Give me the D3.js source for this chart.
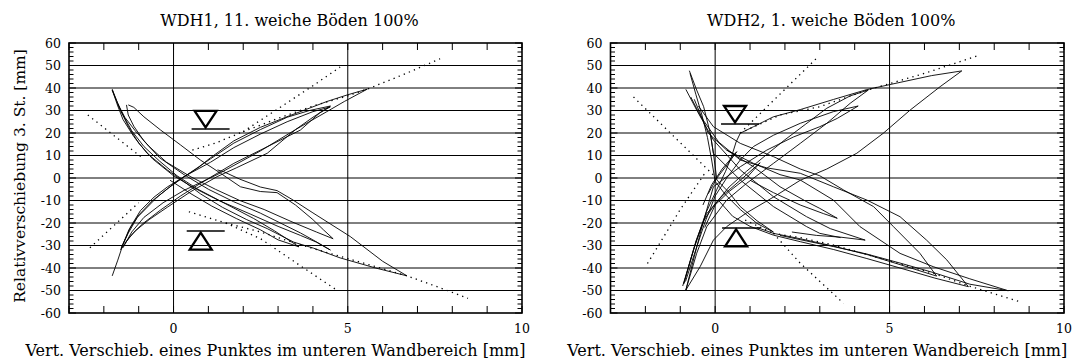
<!DOCTYPE html>
<html>
<head>
<meta charset="utf-8">
<script src="https://cdn.jsdelivr.net/npm/d3@7"></script>
<style>
  html, body { margin: 0; padding: 0; background: #fff; }
  svg { display: block; }
  text { font-family: "DejaVu Serif", serif; fill: #000; }
</style>
</head>
<body>
<svg id="chart" width="1082" height="361"></svg>
<script>
// ---- axes ----
const xDomain = [-3, 10];
const yDomain = [-60, 60];
const xTickValues = d3.range(-3, 11);
const xTickLabels = [0, 5, 10];
const yTickLabels = d3.range(-60, 61, 10);
const yMinorTicks = d3.range(-60, 61, 2);
const xGridValues = [0, 5];

// ---- texts ----
const panelTitles = ["WDH1, 11. weiche Böden 100%", "WDH2, 1. weiche Böden 100%"];
const xAxisTitle = "Vert. Verschieb. eines Punktes im unteren Wandbereich [mm]";
const yAxisTitle = "Relativverschiebung 3. St. [mm]";

// ---- WDH1: measured hysteresis paths [x mm, drift mm] ----
const wdh1Loops = [
  [[-1.52,-32],[-1.28,-23],[-1.0,-16.5],[-0.6,-10],[-0.15,-4.5],[0.3,0.5],[0.7,4.5],[1.06,9],[1.73,16.5],[2.49,22.5],[3.3,27.5],[4.4,34],[5.0,37],[5.56,39.5],[4.9,34],[4.4,29.5],[3.5,21.5],[2.49,12],[1.25,1.5],[0.3,-5.5],[-0.3,-11],[-0.85,-17.5],[-1.2,-24],[-1.45,-31]],
  [[-1.76,-43.5],[-1.6,-36.5],[-1.45,-29.5],[-1.23,-21.6],[-0.95,-14.5],[-0.56,-8.5],[-0.18,-4],[0.3,0.6],[1.06,7],[1.73,13.5],[2.49,19.5],[3.26,25],[4.0,29.5],[4.5,31.6],[4.2,29],[3.64,21.3],[2.69,13.9],[1.73,6.5],[0.77,-2.4],[0.2,-8],[-0.37,-14.2],[-0.9,-20.5],[-1.25,-26],[-1.5,-31.5]],
  [[-1.5,-31],[-1.3,-24.5],[-1.04,-17.5],[-0.47,-8.5],[0.01,-2.5],[0.49,2.5],[1.06,8.5],[1.73,15.5],[2.49,21.5],[3.26,27],[3.9,30],[4.5,32],[4.3,30],[4.0,27],[3.5,21.5],[2.69,11],[1.8,4.5],[1.25,0.6],[0.5,-6],[-0.18,-13],[-0.7,-18.5],[-1.1,-23.5],[-1.4,-29]],
  [[-1.76,39.1],[-1.6,32],[-1.45,26],[-1.14,18.4],[-0.76,11],[-0.18,3.6],[0.3,-1.6],[0.77,-7],[1.4,-13],[2.1,-18.5],[2.69,-22.5],[3.45,-28.5],[4.02,-31.2],[4.78,-35.5],[5.8,-40],[6.7,-43.5],[6.0,-37],[5.07,-26],[4.0,-15.5],[3.4,-9.5],[2.97,-5.6],[2.49,-4],[1.9,-0.5],[1.44,2.8],[1.26,3.6]],
  [[-1.76,39.5],[-1.55,31],[-1.3,23],[-1.0,15.5],[-0.6,8.5],[0,1],[0.6,-4.5],[1.3,-10],[2.2,-16],[3.0,-21.5],[3.64,-25.5],[4.1,-28.5],[4.5,-32],[4.0,-27.5],[3.64,-24.4],[3.0,-19.5],[2.49,-15.6],[1.72,-10.5],[1.0,-5],[0.3,1.5],[-0.4,9],[-0.85,16.5],[-1.14,23],[-1.3,28],[-1.35,32.5]],
  [[-1.3,32.5],[-1.14,31.4],[-0.85,27.2],[-0.37,21.3],[0.2,14.7],[0.77,8],[1.35,2.1],[1.92,-3.9],[2.49,-6],[2.97,-6.5],[3.5,-12],[4.0,-18.5],[4.3,-23],[4.58,-27],[4.1,-24],[3.4,-19.5],[2.6,-14],[1.9,-10],[1.2,-5],[0.5,0.5],[-0.2,7],[-0.7,14],[-1.1,21],[-1.4,27],[-1.6,33]],
  [[-1.76,39],[-1.5,29.5],[-1.2,21],[-0.85,14],[-0.4,7.5],[0.1,1],[0.7,-5],[1.5,-11.5],[2.3,-18],[2.9,-23.5],[3.6,-30.6],[3.0,-27.5],[2.49,-23],[1.8,-18],[1.1,-12.5],[0.5,-7],[-0.1,-1]]
];
// dotted reference lines
const wdh1Guides = [
  [[-2.46,28],[-0.9,9]],
  [[-2.4,-31],[-1.0,-11]],
  [[0.54,12.4],[1.2,15.5],[2.0,20.6]],
  [[2.0,20.6],[3.0,30.8],[4.0,41],[4.78,49.3]],
  [[2.0,20.6],[3.0,26.5],[4.0,32],[5.0,36.5],[5.56,39.5],[6.6,46],[7.65,53]],
  [[0.44,-15],[1.5,-20]],
  [[1.5,-20],[2.5,-27],[3.64,-39],[4.7,-50]],
  [[1.5,-20],[2.5,-24],[3.6,-29.5],[4.6,-34],[5.6,-38.5],[6.7,-43.5],[7.6,-48.5],[8.45,-53.5]]
];
// level symbols [x, y, direction]
const wdh1Levels = [[0.92, 21.8, "down"], [0.78, -23.6, "up"]];

// ---- WDH2 ----
const wdh2Loops = [
  [[-0.93,-48],[-0.7,-36],[-0.5,-26],[-0.25,-15],[0.05,-5],[0.3,3],[0.48,10],[0.6,16],[0.72,19.9],[1.1,22.8],[1.67,27.2],[2.44,30.4],[3.39,34.9],[4.35,39.3],[5.3,42.5],[6.2,45.5],[7.07,47.6],[6.45,40.6],[5.59,30.2],[4.82,19.9],[4.06,11],[3.2,4],[2.44,-1],[1.67,-8.5],[0.9,-15.5],[0.33,-21.6],[-0.05,-27.6],[-0.43,-39.4],[-0.84,-49.8]],
  [[-0.9,-47],[-0.6,-31],[-0.33,-19],[0,-11.5],[0.4,-4],[0.9,3],[1.48,10.5],[2.0,17],[2.6,24],[3.2,31],[3.87,36.5],[4.39,39.1],[3.87,33.2],[3.2,24.3],[2.44,15.4],[1.67,6.5],[0.9,-2.4],[0.33,-9.8],[-0.24,-21.6],[-0.53,-33.5],[-0.84,-49.8]],
  [[-0.84,-49.8],[-0.6,-35],[-0.35,-20],[-0.05,-3.9],[0.72,5],[1.48,12.4],[2.24,18.2],[3.0,22.8],[3.5,26.5],[4.1,32],[3.39,29.5],[2.44,24.3],[1.67,19],[1.1,14],[0.72,8],[0.33,0],[0,-8],[-0.3,-20],[-0.6,-34],[-0.85,-46]],
  [[-0.9,-47],[-0.55,-28],[-0.25,-16],[0.2,-8],[0.72,-1],[1.29,6.8],[0.9,0],[0.4,-6],[0,-12],[-0.3,-22]],
  [[-0.35,-12],[-0.1,-3],[0.2,4],[0.62,11.7],[0.35,6],[0.05,0],[-0.2,-7]],
  [[-0.74,47.7],[-0.53,39.1],[-0.33,31.7],[-0.14,19.9],[-0.05,11],[0.05,-0.9],[0.4,-6.5],[0.72,-12.7],[1.2,-19],[1.67,-24],[1.2,-20.2],[0.72,-14],[0.3,-7.5],[0.0,-1.5],[-0.1,8],[-0.22,18],[-0.38,28],[-0.55,37],[-0.72,46.5]],
  [[-0.48,32],[-0.05,22.8],[0.72,15.4],[1.67,9.5],[2.44,4],[3.0,1],[3.68,-5.3],[4.54,-12.7],[5.11,-21.6],[5.87,-33.5],[6.35,-43.6],[5.3,-38.5],[4.35,-34],[3.4,-30.3],[2.44,-27],[1.67,-24.6],[1.2,-22]],
  [[-0.6,35],[-0.2,20],[0.33,12.4],[1.1,6.5],[1.86,1.5],[2.44,-0.9],[3.39,-9.8],[4.15,-21.6],[5.3,-33.5],[6.25,-39.4],[7.3,-44.8],[8.4,-50.1],[7.3,-47.2],[6.25,-42],[5.3,-37.8],[4.35,-33.8],[3.4,-30.5],[2.62,-28],[1.86,-25.5]],
  [[-0.7,36],[-0.4,27],[0.1,16],[0.72,8],[1.48,4.5],[2.44,2.1],[3.39,-3.9],[4.35,-9.8],[5.3,-17.2],[6.06,-27.6],[6.64,-36.4],[7.26,-48.3],[6.3,-44.5],[5.3,-40],[4.35,-35.8],[3.4,-31.8],[2.44,-28.3],[1.67,-25.4],[1.0,-21.5],[0.5,-17],[0.1,-10]],
  [[-0.84,39.4],[-0.53,30.2],[-0.05,16.9],[0.72,3.6],[1.67,-8.3],[2.62,-17.2],[3.3,-22.5],[4.3,-27.6],[3.6,-26.3],[2.9,-25.5],[2.2,-24]],
  [[0.33,12.4],[1.1,5],[1.86,-3.9],[2.62,-10.5],[3.0,-13.5],[3.5,-17.9],[3.1,-15.8],[2.44,-12],[1.67,-6.5],[1.0,-1]],
  [[-0.14,19.9],[-0.05,11],[0.72,-0.9],[1.67,-12.7],[2.62,-21.6],[3.0,-24.6],[3.6,-26.5]]
];
const wdh2Guides = [
  [[-2.34,36],[-0.05,1.3]],
  [[-1.94,-38],[-1.0,-14],[-0.3,2]],
  [[0.72,20],[2.96,54]],
  [[0.72,20],[1.86,28],[3.0,31.7],[4.35,39],[6.0,46.5],[7.6,54.7]],
  [[0.86,-18.7],[1.67,-24.6]],
  [[1.67,-24.6],[2.44,-37.9],[3.68,-55.7]],
  [[1.67,-24.6],[2.44,-26.5],[3.4,-29.8],[4.8,-36],[6.27,-42.4],[7.2,-47.6],[8.74,-55]]
];
const wdh2Levels = [[0.57, 24, "down"], [0.6, -22.2, "up"]];

// ---- layout ----
const frameTop = 43, frameBottom = 313;
const panels = [
  { left: 69,    right: 522,  title: panelTitles[0], loops: wdh1Loops, guides: wdh1Guides, levels: wdh1Levels, yTitle: true },
  { left: 610.5, right: 1064, title: panelTitles[1], loops: wdh2Loops, guides: wdh2Guides, levels: wdh2Levels, yTitle: false }
];

const svg = d3.select("#chart");

panels.forEach((p, i) => {
  const x = d3.scaleLinear().domain(xDomain).range([p.left, p.right]);
  const y = d3.scaleLinear().domain(yDomain).range([frameBottom, frameTop]);
  const g = svg.append("g");
  const clipId = "clip" + i;
  svg.append("clipPath").attr("id", clipId)
    .append("rect").attr("x", p.left).attr("y", frameTop)
    .attr("width", p.right - p.left).attr("height", frameBottom - frameTop);

  // grid
  g.append("g").selectAll("line").data(yTickLabels.slice(1, -1)).join("line")
    .attr("x1", p.left).attr("x2", p.right)
    .attr("y1", d => y(d)).attr("y2", d => y(d))
    .attr("stroke", "#000").attr("stroke-width", 1);
  g.append("g").selectAll("line").data(xGridValues).join("line")
    .attr("x1", d => x(d)).attr("x2", d => x(d))
    .attr("y1", frameTop).attr("y2", frameBottom)
    .attr("stroke", "#000").attr("stroke-width", 1);

  const line = d3.line().x(d => x(d[0])).y(d => y(d[1]));
  const plot = g.append("g").attr("clip-path", `url(#${clipId})`);

  plot.append("g").selectAll("path").data(p.guides).join("path")
    .attr("d", line).attr("fill", "none").attr("stroke", "#000")
    .attr("stroke-width", 1.3).attr("stroke-dasharray", "1.3,4.2");

  plot.append("g").selectAll("path").data(p.loops).join("path")
    .attr("d", line).attr("fill", "none").attr("stroke", "#000")
    .attr("stroke-width", 0.9).attr("stroke-linejoin", "round");

  // ticks
  const tk = g.append("g").attr("stroke", "#000").attr("stroke-width", 1);
  xTickValues.forEach(v => {
    tk.append("line").attr("x1", x(v)).attr("x2", x(v)).attr("y1", frameTop).attr("y2", frameTop + 7);
    tk.append("line").attr("x1", x(v)).attr("x2", x(v)).attr("y1", frameBottom).attr("y2", frameBottom - 7);
  });
  yMinorTicks.forEach(v => {
    const len = v % 10 === 0 ? 7 : 4.5;
    tk.append("line").attr("x1", p.left).attr("x2", p.left + len).attr("y1", y(v)).attr("y2", y(v));
    tk.append("line").attr("x1", p.right).attr("x2", p.right - len).attr("y1", y(v)).attr("y2", y(v));
  });

  // frame
  g.append("rect").attr("x", p.left).attr("y", frameTop)
    .attr("width", p.right - p.left).attr("height", frameBottom - frameTop)
    .attr("fill", "none").attr("stroke", "#000").attr("stroke-width", 1.6);

  // level symbols
  p.levels.forEach(([lx, ly, dir]) => {
    const cx = x(lx), cy = y(ly);
    const s = g.append("g").attr("fill", "none").attr("stroke", "#000");
    s.append("line").attr("x1", cx - 14).attr("x2", cx + 24).attr("y1", cy).attr("y2", cy).attr("stroke-width", 1.5);
    const pts = dir === "down"
      ? [[cx - 11, cy - 18], [cx + 11, cy - 18], [cx, cy - 1.5]]
      : [[cx, cy + 1.5], [cx + 11, cy + 18.5], [cx - 11, cy + 18.5]];
    s.append("polygon").attr("points", pts.map(q => q.join(",")).join(" "))
      .attr("stroke-width", 2.3).attr("stroke-linejoin", "miter");
  });

  // labels
  g.append("g").selectAll("text").data(yTickLabels).join("text")
    .attr("x", p.left - 8).attr("y", d => y(d) + 4.5)
    .attr("text-anchor", "end").attr("font-size", 12.5).text(d => d);
  g.append("g").selectAll("text").data(xTickLabels).join("text")
    .attr("x", d => x(d)).attr("y", 333)
    .attr("text-anchor", "middle").attr("font-size", 12.5).text(d => d);

  const mid = (p.left + p.right) / 2;
  g.append("text").attr("x", mid - 6).attr("y", 26)
    .attr("text-anchor", "middle").attr("font-size", 16).text(p.title);
  g.append("text").attr("x", mid - 20).attr("y", 356)
    .attr("text-anchor", "middle").attr("font-size", 16).text(xAxisTitle);
  if (p.yTitle) {
    g.append("text").attr("transform", `translate(25,176) rotate(-90)`)
      .attr("text-anchor", "middle").attr("font-size", 15.5).text(yAxisTitle);
  }
});
</script>
</body>
</html>
